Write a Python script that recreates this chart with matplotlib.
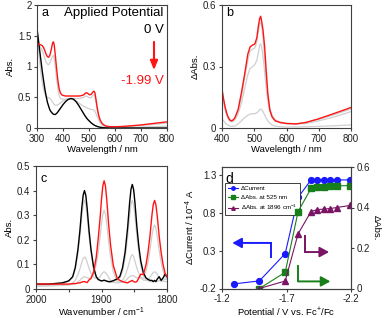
import matplotlib
matplotlib.use("Agg")
import matplotlib.pyplot as plt
from matplotlib.ticker import FuncFormatter, MultipleLocator
from matplotlib.lines import Line2D

plt.rcParams['font.family'] = ['Liberation Sans', 'DejaVu Sans']
plt.rcParams['axes.unicode_minus'] = False
plt.rcParams['mathtext.default'] = 'regular'

# ---- panel a : UV-vis absorbance ----
wl_a = [300, 305, 310, 315, 320, 325, 330, 335, 340, 345, 350, 355, 360, 363, 366, 370, 375, 380, 385, 390,
        395, 400, 410, 420, 430, 440, 450, 460, 470, 480, 486, 491, 496, 502, 508, 514, 519, 523, 527, 532,
        537, 542, 548, 555, 565, 580, 600, 630, 660, 700, 750, 800]
a_0V = [1.62, 1.45, 1.27, 1.10, 0.93, 0.78, 0.64, 0.52, 0.42, 0.35, 0.29, 0.26, 0.235, 0.225, 0.22, 0.22, 0.235, 0.26, 0.29, 0.32,
        0.35, 0.38, 0.43, 0.465, 0.48, 0.47, 0.43, 0.37, 0.30, 0.23, 0.19, 0.16, 0.135, 0.11, 0.085, 0.065, 0.05, 0.04, 0.033, 0.025,
        0.018, 0.013, 0.009, 0.005, 0.002, 0.0, 0.0, 0.0, 0.0, 0.0, 0.0, 0.0]
a_mid1 = [1.50, 1.30, 1.10, 0.90, 0.75, 0.63, 0.56, 0.52, 0.50, 0.49, 0.48, 0.46, 0.42, 0.40, 0.38, 0.37, 0.37, 0.38, 0.39, 0.41,
          0.42, 0.44, 0.46, 0.47, 0.47, 0.46, 0.44, 0.41, 0.38, 0.35, 0.34, 0.33, 0.32, 0.31, 0.30, 0.30, 0.29, 0.27, 0.23, 0.18,
          0.13, 0.09, 0.06, 0.035, 0.018, 0.01, 0.008, 0.009, 0.012, 0.016, 0.022, 0.03]
a_mid2 = [1.36, 1.35, 1.33, 1.30, 1.26, 1.20, 1.13, 1.07, 1.04, 1.03, 1.06, 1.12, 1.17, 1.18, 1.14, 1.00, 0.82, 0.64, 0.53, 0.48,
          0.47, 0.47, 0.47, 0.475, 0.48, 0.48, 0.48, 0.48, 0.485, 0.50, 0.515, 0.52, 0.505, 0.49, 0.495, 0.525, 0.545, 0.52, 0.42, 0.29,
          0.19, 0.125, 0.08, 0.05, 0.03, 0.02, 0.017, 0.02, 0.028, 0.04, 0.06, 0.08]
a_199V = [1.37, 1.37, 1.36, 1.35, 1.34, 1.31, 1.26, 1.20, 1.16, 1.15, 1.19, 1.28, 1.38, 1.40, 1.36, 1.20, 0.98, 0.78, 0.64, 0.57,
          0.54, 0.53, 0.52, 0.52, 0.52, 0.52, 0.52, 0.52, 0.525, 0.54, 0.565, 0.575, 0.56, 0.54, 0.545, 0.58, 0.60, 0.57, 0.46, 0.32,
          0.21, 0.14, 0.09, 0.055, 0.032, 0.022, 0.02, 0.025, 0.035, 0.05, 0.075, 0.10]

# ---- panel b : difference spectra ----
wl_b = [400, 405, 410, 415, 420, 425, 430, 435, 440, 450, 460, 470, 480, 487, 495, 502, 508, 513, 517, 520,
        523, 527, 532, 537, 542, 548, 555, 565, 580, 600, 630, 660, 700, 750, 800]
b_low = [0.045, 0.035, 0.025, 0.017, 0.012, 0.009, 0.008, 0.008, 0.01, 0.02, 0.035, 0.05, 0.062, 0.068, 0.07, 0.07, 0.074, 0.082, 0.09, 0.092,
         0.09, 0.08, 0.065, 0.048, 0.035, 0.023, 0.015, 0.009, 0.006, 0.005, 0.005, 0.006, 0.008, 0.011, 0.015]
b_mid = [0.17, 0.12, 0.085, 0.06, 0.042, 0.032, 0.03, 0.033, 0.04, 0.07, 0.12, 0.19, 0.26, 0.29, 0.30, 0.31, 0.33, 0.37, 0.405, 0.41,
         0.395, 0.35, 0.28, 0.19, 0.13, 0.085, 0.055, 0.036, 0.026, 0.021, 0.019, 0.022, 0.035, 0.055, 0.08]
b_high = [0.185, 0.135, 0.095, 0.066, 0.047, 0.036, 0.033, 0.038, 0.047, 0.085, 0.15, 0.245, 0.33, 0.375, 0.385, 0.39, 0.42, 0.475, 0.51, 0.515,
          0.495, 0.44, 0.345, 0.24, 0.16, 0.1, 0.062, 0.04, 0.029, 0.023, 0.021, 0.026, 0.042, 0.066, 0.093]
b_199V = [0.19, 0.14, 0.10, 0.07, 0.05, 0.038, 0.035, 0.04, 0.05, 0.09, 0.17, 0.26, 0.36, 0.395, 0.405, 0.41, 0.44, 0.50, 0.535, 0.545,
          0.52, 0.48, 0.40, 0.28, 0.17, 0.09, 0.055, 0.035, 0.027, 0.022, 0.02, 0.027, 0.045, 0.072, 0.10]

# ---- panel c : IR spectra ----
wn_c = [2000, 1980, 1960, 1950, 1944, 1940, 1936, 1933, 1930, 1928, 1926, 1924, 1922, 1919, 1916, 1912, 1908, 1905,
        1902, 1900, 1898, 1896, 1894, 1892, 1889, 1886, 1882, 1876, 1872, 1868, 1864, 1860, 1857, 1855, 1853, 1851,
        1849, 1846, 1843, 1840, 1836, 1832, 1829, 1826, 1823, 1821, 1819, 1817, 1815, 1812, 1809, 1806, 1803, 1800]
c_0V = [0.02, 0.02, 0.025, 0.033, 0.05, 0.088, 0.16, 0.237, 0.332, 0.381, 0.40, 0.381, 0.332, 0.237, 0.16, 0.088, 0.05, 0.039,
        0.035, 0.033, 0.034, 0.036, 0.034, 0.032, 0.03, 0.03, 0.034, 0.041, 0.051, 0.085, 0.149, 0.253, 0.353, 0.405, 0.425, 0.405,
        0.353, 0.253, 0.173, 0.113, 0.065, 0.045, 0.039, 0.035, 0.035, 0.03, 0.035, 0.03, 0.04, 0.05, 0.035, 0.045, 0.06, 0.05]
c_mid1 = [0.015, 0.016, 0.02, 0.032, 0.047, 0.081, 0.146, 0.214, 0.299, 0.343, 0.36, 0.343, 0.299, 0.214, 0.146, 0.081, 0.047, 0.037,
          0.033, 0.032, 0.033, 0.034, 0.033, 0.03, 0.028, 0.027, 0.03, 0.036, 0.045, 0.071, 0.125, 0.214, 0.299, 0.343, 0.36, 0.343,
          0.299, 0.214, 0.146, 0.095, 0.054, 0.037, 0.033, 0.03, 0.03, 0.03, 0.032, 0.03, 0.03, 0.035, 0.03, 0.035, 0.04, 0.04]
c_mid2 = [0.012, 0.013, 0.015, 0.019, 0.024, 0.036, 0.058, 0.081, 0.109, 0.124, 0.13, 0.124, 0.109, 0.084, 0.063, 0.048, 0.042, 0.044,
          0.051, 0.06, 0.067, 0.07, 0.067, 0.06, 0.046, 0.035, 0.027, 0.024, 0.027, 0.035, 0.053, 0.085, 0.114, 0.132, 0.14, 0.132,
          0.114, 0.085, 0.063, 0.045, 0.036, 0.035, 0.039, 0.048, 0.06, 0.067, 0.07, 0.067, 0.06, 0.048, 0.039, 0.032, 0.03, 0.03]
c_mid3 = [0.012, 0.013, 0.015, 0.016, 0.018, 0.021, 0.028, 0.035, 0.044, 0.048, 0.05, 0.048, 0.046, 0.043, 0.045, 0.06, 0.10, 0.15,
          0.215, 0.265, 0.305, 0.32, 0.305, 0.265, 0.189, 0.128, 0.07, 0.032, 0.026, 0.028, 0.032, 0.043, 0.05, 0.054, 0.055, 0.054,
          0.05, 0.045, 0.048, 0.045, 0.045, 0.073, 0.109, 0.157, 0.217, 0.248, 0.26, 0.248, 0.217, 0.157, 0.109, 0.073, 0.05, 0.04]
c_199V = [0.02, 0.02, 0.02, 0.02, 0.022, 0.022, 0.024, 0.025, 0.028, 0.03, 0.03, 0.028, 0.026, 0.037, 0.043, 0.07, 0.129, 0.205,
          0.293, 0.364, 0.419, 0.44, 0.419, 0.364, 0.259, 0.175, 0.096, 0.043, 0.035, 0.03, 0.027, 0.025, 0.03, 0.032, 0.035, 0.03,
          0.028, 0.03, 0.045, 0.06, 0.059, 0.099, 0.149, 0.216, 0.30, 0.343, 0.36, 0.343, 0.30, 0.216, 0.149, 0.099, 0.065, 0.05]

# ---- panel d : potential dependence ----
pot = [-1.29, -1.49, -1.69, -1.79, -1.89, -1.94, -1.99, -2.04, -2.09, -2.19]
d_current = [-0.14, -0.10, 0.26, 1.00, 1.23, 1.235, 1.23, 1.235, 1.23, 1.23]
pot_abs = [-1.49, -1.69, -1.79, -1.89, -1.94, -1.99, -2.04, -2.09, -2.19]
d_abs525 = [0.0, 0.08, 0.38, 0.494, 0.50, 0.502, 0.505, 0.507, 0.508]
d_abs1896 = [0.0, 0.037, 0.27, 0.38, 0.39, 0.392, 0.395, 0.40, 0.41]

RED = '#ff1414'
GRAY = '#cfcfcf'
SPINE = '#404040'
BLUE = '#1a1aff'
GREEN = '#17801a'
PURPLE = '#7a1464'
TICK = 7
LAB = 6.8

fmt = FuncFormatter(lambda v, p: f'{v:g}')


def style(ax):
    for s in ax.spines.values():
        s.set_color(SPINE)
        s.set_linewidth(0.8)
    ax.tick_params(direction='out', length=2.5, width=0.8, color=SPINE,
                   labelsize=TICK, pad=1.5, labelcolor='#202020')
    ax.xaxis.set_major_formatter(fmt)
    ax.yaxis.set_major_formatter(fmt)


fig = plt.figure(figsize=(3.85, 3.18), dpi=100)

# panel a
ax = fig.add_axes([37 / 385, 1 - 128 / 318, 130 / 385, 123 / 318])
ax.plot(wl_a, a_mid1, color=GRAY, lw=0.9)
ax.plot(wl_a, a_mid2, color=GRAY, lw=0.9)
ax.plot(wl_a, a_0V, color='black', lw=1.0)
ax.plot(wl_a, a_199V, color=RED, lw=1.0)
ax.set_xlim(300, 800)
ax.set_ylim(0, 2)
ax.xaxis.set_major_locator(MultipleLocator(100))
ax.yaxis.set_major_locator(MultipleLocator(0.5))
style(ax)
ax.set_xlabel('Wavelength / nm', fontsize=LAB, labelpad=1)
ax.set_ylabel('Abs.', fontsize=LAB, labelpad=2)
ax.text(0.035, 0.91, 'a', transform=ax.transAxes, fontsize=9)
ax.text(0.975, 0.91, 'Applied Potential', transform=ax.transAxes, fontsize=9.5, ha='right')
ax.text(0.975, 0.775, '0 V', transform=ax.transAxes, fontsize=9.5, ha='right')
ax.text(0.975, 0.355, '-1.99 V', transform=ax.transAxes, fontsize=9.5, ha='right', color=RED)
ax.annotate('', xy=(750, 0.94), xytext=(750, 1.40),
            arrowprops=dict(arrowstyle='-|>,head_length=0.55,head_width=0.22', color=RED, lw=1.5,
                            shrinkA=0, shrinkB=0))

# panel b
ax = fig.add_axes([222 / 385, 1 - 128 / 318, 129 / 385, 123 / 318])
ax.plot(wl_b, b_low, color=GRAY, lw=0.9)
ax.plot(wl_b, b_mid, color=GRAY, lw=0.9)
ax.plot(wl_b, b_high, color=GRAY, lw=0.9)
ax.plot(wl_b, b_199V, color=RED, lw=1.0)
ax.set_xlim(400, 800)
ax.set_ylim(0, 0.6)
ax.xaxis.set_major_locator(MultipleLocator(100))
ax.yaxis.set_major_locator(MultipleLocator(0.3))
style(ax)
ax.set_xlabel('Wavelength / nm', fontsize=LAB, labelpad=1)
ax.set_ylabel('ΔAbs.', fontsize=LAB, labelpad=2)
ax.text(0.035, 0.91, 'b', transform=ax.transAxes, fontsize=9)

# panel c
ax = fig.add_axes([36 / 385, 1 - 289 / 318, 131 / 385, 123 / 318])
ax.plot(wn_c, c_mid1, color=GRAY, lw=0.9)
ax.plot(wn_c, c_mid2, color=GRAY, lw=0.9)
ax.plot(wn_c, c_mid3, color=GRAY, lw=0.9)
ax.plot(wn_c, c_0V, color='black', lw=1.0)
ax.plot(wn_c, c_199V, color=RED, lw=1.0)
ax.set_xlim(2000, 1800)
ax.set_ylim(0, 0.5)
ax.set_xticks([2000, 1950, 1900, 1850, 1800])
ax.yaxis.set_major_locator(MultipleLocator(0.1))
style(ax)
ax.xaxis.set_major_formatter(FuncFormatter(lambda v, p: f'{v:g}' if v % 100 == 0 else ''))
ax.set_xlabel('Wavenumber / cm$^{-1}$', fontsize=LAB, labelpad=1)
ax.set_ylabel('Abs.', fontsize=LAB, labelpad=2)
ax.text(0.035, 0.87, 'c', transform=ax.transAxes, fontsize=9)

# panel d
ax = fig.add_axes([222 / 385, 1 - 288.5 / 318, 129 / 385, 121.5 / 318])
ax2 = ax.twinx()
ax.plot(pot, d_current, '-o', color=BLUE, lw=0.8, ms=4.2, zorder=3)
ax2.plot(pot_abs, d_abs525, '-s', color=GREEN, lw=0.8, ms=4.0)
ax2.plot(pot_abs, d_abs1896, '-^', color=PURPLE, lw=0.8, ms=4.0)
ax.set_xlim(-1.2, -2.2)
ax.set_ylim(-0.2, 1.4)
ax2.set_ylim(0, 0.6)
ax.set_xticks([-1.2, -1.7, -2.2])
ax.set_yticks([-0.2, 0.3, 0.8, 1.3])
ax2.set_yticks([0, 0.2, 0.4, 0.6])
style(ax)
style(ax2)
ax.set_xlabel('Potential / V vs. Fc$^{+}$/Fc', fontsize=LAB, labelpad=1)
ax.set_ylabel('ΔCurrent / 10$^{-4}$ A', fontsize=LAB, labelpad=2)
ax2.set_ylabel('ΔAbs.', fontsize=LAB, rotation=270, labelpad=8)
ax.text(0.03, 0.865, 'd', transform=ax.transAxes, fontsize=10)

arrow = dict(arrowstyle='-|>,head_length=0.55,head_width=0.3', lw=1.4, shrinkA=0, shrinkB=0)
ax.plot([-1.58, -1.58], [0.21, 0.40], color=BLUE, lw=1.4)
ax.annotate('', xy=(-1.28, 0.40), xytext=(-1.58, 0.40), arrowprops=dict(color=BLUE, **arrow))
ax2.plot([-1.843, -1.843], [0.257, 0.18], color=PURPLE, lw=1.4)
ax2.annotate('', xy=(-2.03, 0.18), xytext=(-1.843, 0.18), arrowprops=dict(color=PURPLE, **arrow))
ax2.plot([-1.79, -1.79], [0.11, 0.035], color=GREEN, lw=1.4)
ax2.annotate('', xy=(-2.04, 0.035), xytext=(-1.79, 0.035), arrowprops=dict(color=GREEN, **arrow))

handles = [Line2D([], [], color=BLUE, marker='o', lw=0.8, ms=2.5),
           Line2D([], [], color=GREEN, marker='s', lw=0.8, ms=2.5),
           Line2D([], [], color=PURPLE, marker='^', lw=0.8, ms=2.5)]
leg = ax.legend(handles, ['ΔCurrent', 'ΔAbs. at 525 nm', 'ΔAbs. at 1896 cm$^{-1}$'],
                loc='upper left', bbox_to_anchor=(0.025, 0.87), borderaxespad=0,
                fontsize=4.5, handlelength=1.6, handletextpad=0.4, labelspacing=0.5,
                borderpad=0.5, fancybox=False, framealpha=1)
leg.get_frame().set_edgecolor('#202020')
leg.get_frame().set_linewidth(0.6)

fig.savefig('out.png', dpi=100)
